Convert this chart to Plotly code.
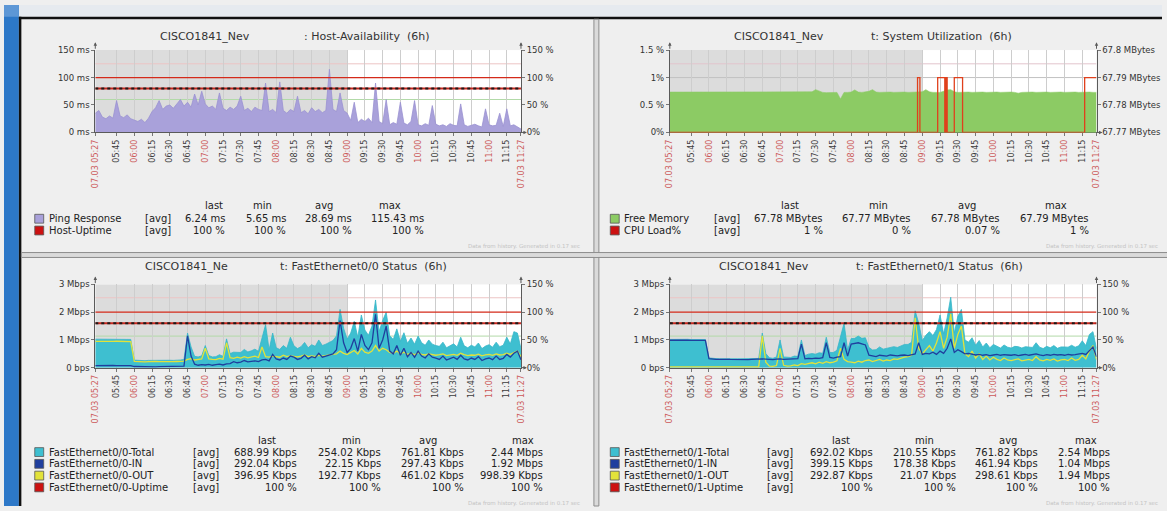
import plotly.graph_objects as go

W, H = 1167, 511
FONT = "DejaVu Sans"

# ---------------- data ----------------
START_TIME = "05:27"
SAMPLE_STEP_MIN = 3
WORK_START = "09:00"
X_TICK_LABELS = ["07.03 05:27", "05:45", "06:00", "06:15", "06:30", "06:45", "07:00",
                 "07:15", "07:30", "07:45", "08:00", "08:15", "08:30", "08:45", "09:00",
                 "09:15", "09:30", "09:45", "10:00", "10:15", "10:30", "10:45", "11:00",
                 "11:15", "07.03 11:27"]

PING_MS = [35, 40, 28, 25, 30, 26, 58, 30, 27, 32, 25, 22,
           20, 24, 18, 26, 38, 45, 58, 42, 48, 50, 44, 52, 60,
           48, 55, 46, 70, 50, 75, 52,
           45, 48, 42, 72, 44, 40, 46, 42, 48, 66, 40, 44, 38, 46, 42, 40, 90,
           38, 42, 36, 92, 40, 35, 42, 38, 66, 36, 40, 34, 45, 38, 42, 36, 40, 115,
           42, 38, 72, 40, 35,
           22, 55, 18, 24, 20, 26, 18, 90, 20,
           16, 60, 14, 18, 15, 55, 17, 14, 20, 58,
           14, 12, 16, 13, 49, 15, 12, 14, 11, 16, 13, 12, 52, 14, 11, 13, 15, 12, 10, 43,
           14, 12, 13, 35, 11, 43, 12, 14, 10, 6.24]
UPTIME_TIMES = ["05:27", "11:27"]
HOST_UPTIME_PCT = [100, 100]

FREE_MEM_MB = [67.7847, 67.7847, 67.7846, 67.7847, 67.7847, 67.7846, 67.7847, 67.7847, 67.7846, 67.7847,
               67.7847, 67.7846, 67.7847, 67.7847, 67.7847, 67.7846, 67.7847, 67.7847, 67.7846, 67.7847,
               67.7847, 67.7847, 67.7846, 67.7847, 67.7847, 67.7847, 67.7846, 67.7847, 67.7847, 67.7847,
               67.7846, 67.7847, 67.7847, 67.7846, 67.7847, 67.7847, 67.7846, 67.7847, 67.7847, 67.7846,
               67.7848, 67.7856, 67.7850, 67.7846, 67.7845, 67.7846, 67.7845, 67.7846, 67.7822, 67.7846,
               67.7846, 67.7847, 67.7855, 67.7847, 67.7846, 67.7847, 67.7850, 67.7856, 67.7847, 67.7846,
               67.7847, 67.7846, 67.7847, 67.7846, 67.7847, 67.7846, 67.7847, 67.7846, 67.7847, 67.7846,
               67.7847, 67.7848, 67.7856, 67.7848, 67.7846, 67.7847, 67.7846, 67.7850, 67.7855, 67.7856,
               67.7848, 67.7846, 67.7847, 67.7846, 67.7847, 67.7846, 67.7847, 67.7846, 67.7847, 67.7846,
               67.7847, 67.7846, 67.7847, 67.7846, 67.7847, 67.7846, 67.7847, 67.7846, 67.7843, 67.7846,
               67.7847, 67.7846, 67.7847, 67.7846, 67.7847, 67.7846, 67.7847, 67.7846, 67.7847, 67.7846,
               67.7847, 67.7846, 67.7847, 67.7846, 67.7847, 67.7846, 67.7847, 67.7846, 67.7847, 67.7846, 67.7846]
CPU_TIMES = ["05:27", "08:56", "08:58", "09:13", "09:19", "09:20", "09:21", "09:27", "09:34", "11:17", "11:27"]
CPU_LOAD_PCT = [0, 1, 0, 1, 0, 1, 0, 1, 0, 1, 1]

FE00_TOTAL_KBPS = [1030, 1030, 1030, 1030, 1030, 1035, 1035, 1020, 1035, 1030, 1020,
                   275, 260, 260, 255, 265, 270, 260, 260, 260, 275, 270, 265, 265, 280, 300,
                   1250,
                   750, 410, 390, 430, 800, 440, 390, 400, 470, 410, 1040,
                   510, 560, 560, 550, 660, 570, 610, 670, 590, 1030, 1550,
                   650, 1250, 720, 660, 800, 700, 1100, 790, 690, 760, 910, 720, 830, 770, 1000, 800,
                   850, 920, 980, 1150, 2100, 1420,
                   1030, 1250, 1670, 1100, 1900, 1360, 1170, 1500, 2440,
                   1300, 1700, 2000, 1150, 1020, 1400,
                   950, 1260, 880, 1070, 850, 1140, 900, 810, 1000, 850,
                   800, 770, 920, 720, 790, 860, 750, 1100, 790, 720, 810, 750, 890, 690, 780, 830,
                   740, 920, 760, 810, 1100, 860, 1300, 1250, 689]
FE00_IN_KBPS = [80, 85, 75, 80, 90, 85, 80, 75, 85, 80, 80,
                45, 40, 35, 40, 45, 40, 35, 40, 45, 50, 40, 45, 40, 50, 60,
                1150,
                420, 130, 90, 110, 100, 120, 90, 110, 130, 100, 140,
                150, 220, 180, 200, 260, 210, 230, 250, 220, 280, 300,
                250, 480, 320, 280, 350, 300, 420, 380, 300, 340, 450, 320, 400, 360, 520, 380,
                420, 460, 500, 650, 1700, 900,
                550, 700, 1050, 600, 1200, 800, 650, 900, 1920,
                700, 1000, 1500, 600, 500, 800,
                450, 700, 400, 550, 380, 600, 420, 350, 500, 380,
                350, 300, 420, 280, 330, 380, 300, 450, 320, 280, 350, 300, 400, 260, 320, 350,
                290, 420, 300, 340, 480, 380, 520, 600, 292]
FE00_OUT_KBPS = [950, 945, 955, 950, 940, 950, 955, 945, 950, 950, 940,
                 230, 220, 225, 215, 220, 230, 225, 220, 215, 225, 230, 220, 225, 230, 240,
                 300,
                 330, 280, 300, 320, 700, 320, 300, 290, 340, 310, 900,
                 360, 340, 380, 350, 400, 360, 380, 420, 370, 750, 400,
                 380, 420, 400, 380, 450, 400, 430, 410, 390, 420, 460, 400, 430, 410, 450, 420,
                 430, 460, 480, 500, 600, 520,
                 480, 550, 620, 500, 700, 560, 520, 600, 800,
                 600, 700, 650, 550, 520, 600,
                 500, 560, 480, 520, 470, 540, 480, 460, 500, 470,
                 450, 470, 500, 440, 460, 480, 450, 520, 470, 440, 460, 450, 490, 430, 460, 480,
                 450, 500, 460, 470, 520, 480, 550, 600, 397]
FE00_UPTIME_PCT = [100, 100]

FE01_TOTAL_KBPS = [1020, 1025, 1020, 1020, 1030, 1025, 1015, 1020, 1030, 1020, 1015,
                   355, 330, 330, 320, 335, 325, 325, 315, 325, 325, 325, 320, 320, 335, 335,
                   1250,
                   510, 360, 340, 390, 1000, 390, 370, 370, 420, 410, 1000,
                   440, 490, 510, 490, 540, 520, 1100, 550, 550, 630, 1100,
                   1600, 640, 1050, 1060, 1140, 1060, 1080, 730, 640, 650, 750, 670, 700, 720, 760, 730,
                   800, 840, 840, 920, 2050, 1600,
                   980, 1170, 1300, 1160, 1380, 1900, 1220, 1800, 2540,
                   1250, 1850, 2100, 1000, 920, 1080,
                   810, 980, 750, 890, 720, 840, 780, 710, 820, 740,
                   710, 770, 760, 710, 760, 750, 730, 900, 740, 690, 770, 720, 800, 700, 750, 750,
                   740, 810, 740, 790, 970, 800, 1200, 1300, 692]
FE01_IN_KBPS = [990, 995, 985, 990, 1000, 990, 985, 990, 995, 990, 985,
                330, 310, 305, 300, 310, 305, 300, 295, 300, 305, 300, 295, 300, 310, 305,
                320,
                310, 300, 290, 310, 320, 300, 310, 300, 320, 330, 850,
                320, 340, 330, 350, 340, 360, 900, 370, 350, 380, 400,
                900, 420, 850, 880, 900, 860, 820, 450, 420, 400, 450, 430, 420, 460, 440, 430,
                450, 460, 440, 470, 500, 900,
                480, 520, 500, 560, 480, 600, 520, 700, 1040,
                550, 650, 580, 500, 520, 480,
                460, 480, 450, 470, 440, 460, 480, 450, 470, 460,
                450, 470, 440, 460, 480, 450, 470, 500, 460, 440, 470, 450, 480, 460, 470, 450,
                480, 460, 470, 490, 520, 480, 600, 750, 399]
FE01_OUT_KBPS = [30, 30, 35, 30, 30, 35, 30, 30, 35, 30, 30,
                 25, 20, 25, 20, 25, 20, 25, 20, 25, 20, 25, 25, 20, 25, 30,
                 1150,
                 200, 60, 50, 80, 700, 90, 60, 70, 100, 80, 150,
                 120, 150, 180, 140, 200, 160, 220, 180, 200, 250, 700,
                 300, 220, 200, 180, 240, 200, 260, 280, 220, 250, 300, 240, 280, 260, 320, 300,
                 350, 380, 400, 450, 1800, 700,
                 500, 650, 800, 600, 900, 1300, 700, 1100, 1940,
                 700, 1200, 1500, 500, 400, 600,
                 350, 500, 300, 420, 280, 380, 300, 260, 350, 280,
                 260, 300, 320, 250, 280, 300, 260, 400, 280, 250, 300, 270, 320, 240, 280, 300,
                 260, 350, 270, 300, 450, 320, 600, 800, 293]
FE01_UPTIME_PCT = [100, 100]

# guide lines (in % of the right-hand axis) and trigger level
PCT_AXIS_MAX = 150
CPU_AXIS_MAX = 1.5
TRIGGER_PCT = 80
GUIDE_PCT_TOP = [125, 60]
GUIDE_PCT_BOTTOM = [126, 57]
GUIDE_CPU_PCT = [1.25, 1.0]

# legend tables
TL_NAMES = ["Ping Response", "Host-Uptime"]
TL_LAST = ["6.24 ms", "100 %"]
TL_MIN = ["5.65 ms", "100 %"]
TL_AVG = ["28.69 ms", "100 %"]
TL_MAX = ["115.43 ms", "100 %"]

TR_NAMES = ["Free Memory", "CPU Load%"]
TR_LAST = ["67.78 MBytes", "1 %"]
TR_MIN = ["67.77 MBytes", "0 %"]
TR_AVG = ["67.78 MBytes", "0.07 %"]
TR_MAX = ["67.79 MBytes", "1 %"]

BL_NAMES = ["FastEthernet0/0-Total", "FastEthernet0/0-IN", "FastEthernet0/0-OUT", "FastEthernet0/0-Uptime"]
BL_LAST = ["688.99 Kbps", "292.04 Kbps", "396.95 Kbps", "100 %"]
BL_MIN = ["254.02 Kbps", "22.15 Kbps", "192.77 Kbps", "100 %"]
BL_AVG = ["761.81 Kbps", "297.43 Kbps", "461.02 Kbps", "100 %"]
BL_MAX = ["2.44 Mbps", "1.92 Mbps", "998.39 Kbps", "100 %"]

BR_NAMES = ["FastEthernet0/1-Total", "FastEthernet0/1-IN", "FastEthernet0/1-OUT", "FastEthernet0/1-Uptime"]
BR_LAST = ["692.02 Kbps", "399.15 Kbps", "292.87 Kbps", "100 %"]
BR_MIN = ["210.55 Kbps", "178.38 Kbps", "21.07 Kbps", "100 %"]
BR_AVG = ["761.82 Kbps", "461.94 Kbps", "298.61 Kbps", "100 %"]
BR_MAX = ["2.54 Mbps", "1.04 Mbps", "1.94 Mbps", "100 %"]

# ---------------- styles ----------------
C_PING = "#a9a1da"
C_RED = "#d42a1a"
C_MEM = "#8ccb64"
C_CPU = "#e0401c"
C_TOTAL = "#3ebfd0"
C_IN = "#1f3f9e"
C_OUT = "#e2e23a"


def hm(s):
    hh, mm = s[-5:].split(":")
    return int(hh) * 60 + int(mm)


def sample_x(vals):
    t0 = hm(START_TIME)
    return [t0 + SAMPLE_STEP_MIN * k for k in range(len(vals))]


def px(x):
    return x / W


def py(y):
    return 1 - y / H


T0, T1 = hm(X_TICK_LABELS[0]), hm(X_TICK_LABELS[-1])
TICKVALS = [hm(s) for s in X_TICK_LABELS]
TICKTEXT = []
for s in X_TICK_LABELS:
    red = s.startswith("07.03") or s.endswith(":00")
    TICKTEXT.append("<span style='color:#cc5a5a'>%s</span>" % s if red else s)

# panel plot areas in pixels
GEOM = {
    1: dict(x0=92, x1=521, top=46, bot=130),
    2: dict(x0=671, x1=1101, top=46, bot=130),
    3: dict(x0=92, x1=521, top=285, bot=370),
    4: dict(x0=671, x1=1101, top=285, bot=370),
}

fig = go.Figure()


def ax(n):
    return "" if n == 1 else str(n)


# --- panel 1: host availability
fig.add_trace(go.Scatter(x=sample_x(PING_MS), y=PING_MS, mode="lines", fill="tozeroy",
                         fillcolor=C_PING, line=dict(color="#9a92d2", width=0.8),
                         xaxis="x", yaxis="y", hoverinfo="skip"))
fig.add_trace(go.Scatter(x=[hm(t) for t in UPTIME_TIMES], y=HOST_UPTIME_PCT, mode="lines",
                         line=dict(color=C_RED, width=1.2), xaxis="x", yaxis="y2", hoverinfo="skip"))

# --- panel 2: system utilisation (memory on base axis y3 = right side, cpu on y4 = left side)
fig.add_trace(go.Scatter(x=sample_x(FREE_MEM_MB), y=FREE_MEM_MB, mode="lines", fill="tozeroy",
                         fillcolor=C_MEM, line=dict(color=C_MEM, width=0.6),
                         xaxis="x2", yaxis="y3", hoverinfo="skip"))
fig.add_trace(go.Scatter(x=[hm(t) for t in CPU_TIMES], y=CPU_LOAD_PCT, mode="lines",
                         line=dict(color=C_CPU, width=1.3, shape="hv"),
                         xaxis="x2", yaxis="y4", hoverinfo="skip", cliponaxis=False))

# --- panels 3/4: interfaces
for k, (tot, inn, out, up) in ((3, (FE00_TOTAL_KBPS, FE00_IN_KBPS, FE00_OUT_KBPS, FE00_UPTIME_PCT)),
                               (4, (FE01_TOTAL_KBPS, FE01_IN_KBPS, FE01_OUT_KBPS, FE01_UPTIME_PCT))):
    xa, yl, yr = "x%d" % k, "y%d" % (2 * k - 1), "y%d" % (2 * k)
    fig.add_trace(go.Scatter(x=sample_x(tot), y=tot, mode="lines", fill="tozeroy",
                             fillcolor=C_TOTAL, line=dict(color="#38b6c8", width=0.8),
                             xaxis=xa, yaxis=yl, hoverinfo="skip"))
    fig.add_trace(go.Scatter(x=sample_x(out), y=out, mode="lines",
                             line=dict(color=C_OUT, width=1.3), xaxis=xa, yaxis=yl, hoverinfo="skip"))
    fig.add_trace(go.Scatter(x=sample_x(inn), y=inn, mode="lines",
                             line=dict(color=C_IN, width=1.3), xaxis=xa, yaxis=yl, hoverinfo="skip"))
    fig.add_trace(go.Scatter(x=[hm(t) for t in UPTIME_TIMES], y=up, mode="lines",
                             line=dict(color=C_RED, width=1.2), xaxis=xa, yaxis=yr, hoverinfo="skip"))

# ---------------- axes ----------------
layout = dict(width=W, height=H, autosize=False, margin=dict(l=0, r=0, t=0, b=0),
              paper_bgcolor="#efefef", plot_bgcolor="#ffffff", showlegend=False,
              font=dict(family=FONT, color="#333333", size=9))
AXLINE = "#5a5a5a"
YFONT = dict(family=FONT, size=8.5, color="#333333")

for k, g in GEOM.items():
    xd = [px(g["x0"]), px(g["x1"])]
    layout["xaxis" + ax(k)] = dict(
        domain=xd, anchor="y" + ax(2 * k - 1), range=[T0, T1], tickvals=TICKVALS, ticktext=TICKTEXT,
        tickangle=-90, tickfont=dict(family=FONT, size=8, color="#3c3c3c"), showgrid=True,
        gridcolor="#cdcdcd", gridwidth=1, showline=True, linecolor=AXLINE, ticks="outside",
        ticklen=3, tickcolor="#777777", zeroline=False, fixedrange=True,
        layer="below traces" if k == 2 else "above traces")

y_specs = {
    1: dict(range=[0, 150], tickvals=[0, 50, 100, 150], ticktext=["0 ms", "50 ms", "100 ms", "150 ms"], side="left"),
    2: dict(range=[0, PCT_AXIS_MAX], tickvals=[0, 50, 100, 150], ticktext=["0%", "50 %", "100 %", "150 %"], side="right"),
    3: dict(range=[67.77, 67.80], tickvals=[67.77, 67.78, 67.79, 67.80],
            ticktext=["67.77 MBytes", "67.78 MBytes", "67.79 MBytes", "67.8 MBytes"], side="right"),
    4: dict(range=[0, CPU_AXIS_MAX], tickvals=[0, 0.5, 1, 1.5], ticktext=["0%", "0.5 %", "1%", "1.5 %"], side="left"),
    5: dict(range=[0, 3000], tickvals=[0, 1000, 2000, 3000], ticktext=["0 bps", "1 Mbps", "2 Mbps", "3 Mbps"], side="left"),
    6: dict(range=[0, PCT_AXIS_MAX], tickvals=[0, 50, 100, 150], ticktext=["0%", "50 %", "100 %", "150 %"], side="right"),
    7: dict(range=[0, 3000], tickvals=[0, 1000, 2000, 3000], ticktext=["0 bps", "1 Mbps", "2 Mbps", "3 Mbps"], side="left"),
    8: dict(range=[0, PCT_AXIS_MAX], tickvals=[0, 50, 100, 150], ticktext=["0%", "50 %", "100 %", "150 %"], side="right"),
}
for n, spec in y_specs.items():
    k = (n + 1) // 2
    g = GEOM[k]
    d = dict(spec, anchor="x" + ax(k), tickfont=YFONT, showgrid=False, showline=True, linecolor=AXLINE,
             ticks="outside", ticklen=3, tickcolor="#777777", zeroline=False, fixedrange=True)
    if n % 2 == 1:
        d["domain"] = [py(g["bot"]), py(g["top"])]
    else:
        d["overlaying"] = "y" + ax(n - 1)
    layout["yaxis" + ax(n)] = d

# ---------------- shapes ----------------
shapes = []


def prect(x0, x1, y0, y1, color, line=None):
    shapes.append(dict(type="rect", xref="paper", yref="paper", x0=px(x0), x1=px(x1), y0=py(y1), y1=py(y0),
                       fillcolor=color, line=line or dict(width=0), layer="below"))


# outer frame
prect(0, W, 0, 12, "#e6eaef")
prect(0, 15, 0, H, "#2d78c8")
prect(0, 15, 0, 12, "#5d97d6")
prect(15, W, 12, 14.5, "#111111")
prect(15, 17.5, 12, H, "#111111")
# panel dividers (double grey lines)
prect(594.5, 599.5, 14.5, H, "#dadada", dict(color="#8c8c8c", width=1))
prect(17.5, W + 10, 252.5, 257.5, "#dadada", dict(color="#8c8c8c", width=1))
prect(595, 599, 253, 257, "#dadada")

work_x = hm(WORK_START)
for k in GEOM:
    xr = "x" + ax(k)
    ydom = "y" + ax(2 * k - 1) + " domain"
    shapes.append(dict(type="rect", xref=xr, yref=ydom, x0=T0, x1=work_x, y0=0, y1=1,
                       fillcolor="#dcdcdc", line_width=0, layer="below"))
    if k == 2:
        for i, lv in enumerate(GUIDE_CPU_PCT):
            f = lv / CPU_AXIS_MAX
            shapes.append(dict(type="line", xref=xr, yref=ydom, x0=T0, x1=T1, y0=f, y1=f,
                               line=dict(color="#e2c4cc" if i == 0 else "#c2c2c2", width=1), layer="below"))
        continue
    guides = GUIDE_PCT_TOP if k == 1 else GUIDE_PCT_BOTTOM
    for lv, col in zip(guides, ("#ecc4c4", "#b2daa8")):
        f = lv / PCT_AXIS_MAX
        shapes.append(dict(type="line", xref=xr, yref=ydom, x0=T0, x1=T1, y0=f, y1=f,
                           line=dict(color=col, width=1), layer="below"))
    f = TRIGGER_PCT / PCT_AXIS_MAX
    shapes.append(dict(type="line", xref=xr, yref=ydom, x0=T0, x1=T1, y0=f, y1=f,
                       line=dict(color="#c8281e", width=2), layer="above"))
    shapes.append(dict(type="line", xref=xr, yref=ydom, x0=T0, x1=T1, y0=f, y1=f,
                       line=dict(color="#1a1a1a", width=2, dash="3px,3px"), layer="above"))

# ---------------- annotations ----------------
ann = []


def text(x, y, s, size=10, anchor="left", color="#222222"):
    ann.append(dict(xref="paper", yref="paper", x=px(x), y=py(y), text=s, showarrow=False,
                    xanchor=anchor, yanchor="middle", font=dict(family=FONT, size=size, color=color)))


# axis arrows
for k, g in GEOM.items():
    for xa in (g["x0"], g["x1"]):
        ann.append(dict(xref="paper", yref="paper", x=px(xa), y=py(g["top"] - 8), ax=0, ay=8, text="",
                        showarrow=True, arrowhead=2, arrowsize=0.7, arrowwidth=1, arrowcolor=AXLINE))
    ann.append(dict(xref="paper", yref="paper", x=px(g["x1"] + 6), y=py(g["bot"]), ax=-6, ay=0, text="",
                    showarrow=True, arrowhead=2, arrowsize=0.7, arrowwidth=1, arrowcolor=AXLINE))

# titles
TITLES = [
    (155, 300, 32, "CISCO1841_Nev", ": Host-Availability  (6h)"),
    (734, 872, 32, "CISCO1841_Nev", "t: System Utilization  (6h)"),
    (140, 276, 267, "CISCO1841_Ne", "t: FastEthernet0/0 Status  (6h)"),
    (719, 857, 267, "CISCO1841_Nev", "t: FastEthernet0/1 Status  (6h)"),
]
for xa, xb, y, a, b in TITLES:
    text(xa, y, a, size=11, color="#333333")
    text(xb, y, b.replace(" ", "\u00a0"), size=11, color="#333333")

# legends
LEGENDS = [
    dict(names=TL_NAMES, cols=[TL_LAST, TL_MIN, TL_AVG, TL_MAX], colors=[C_PING, "#cc1111"],
         sq=31, name=43, avg=140, vr=[225, 286, 353, 425], hc=[212, 261, 322, 389], hy=205, ry=[218, 230]),
    dict(names=TR_NAMES, cols=[TR_LAST, TR_MIN, TR_AVG, TR_MAX], colors=[C_MEM, "#cc1111"],
         sq=611, name=623, avg=713, vr=[827, 916, 1006, 1095], hc=[792, 881, 970, 1060], hy=205, ry=[218, 230]),
    dict(names=BL_NAMES, cols=[BL_LAST, BL_MIN, BL_AVG, BL_MAX], colors=[C_TOTAL, C_IN, C_OUT, "#cc1111"],
         sq=31, name=43, avg=188, vr=[297, 382, 466, 545], hc=[265, 350, 427, 523], hy=444, ry=[456, 468, 480, 492]),
    dict(names=BR_NAMES, cols=[BR_LAST, BR_MIN, BR_AVG, BR_MAX], colors=[C_TOTAL, C_IN, C_OUT, "#cc1111"],
         sq=611, name=623, avg=767, vr=[878, 961, 1044, 1117], hc=[844, 928, 1012, 1090], hy=444, ry=[456, 468, 480, 492]),
]
HEADERS = ["last", "min", "avg", "max"]
for L in LEGENDS:
    for h, xc in zip(HEADERS, L["hc"]):
        text(xc, L["hy"], h, anchor="center")
    for r, nm in enumerate(L["names"]):
        y = L["ry"][r]
        shapes.append(dict(type="rect", xref="paper", yref="paper", x0=px(L["sq"]), x1=px(L["sq"] + 9),
                           y0=py(y + 4.5), y1=py(y - 4.5), fillcolor=L["colors"][r],
                           line=dict(color="#555555", width=0.8), layer="above"))
        text(L["name"], y, nm)
        text(L["avg"], y, "[avg]")
        for c, xr in enumerate(L["vr"]):
            text(xr, y, L["cols"][c][r], anchor="right")

FOOTER = "Data from history. Generated in 0.17 sec"
for x, y in ((582, 246), (1165, 246), (582, 508), (1165, 508)):
    text(x, y, FOOTER, size=5.5, anchor="right", color="#c4c4c4")

layout["shapes"] = shapes
layout["annotations"] = ann
fig.update_layout(**layout)
fig.write_html("out.html", config={"displayModeBar": False, "staticPlot": True},
               post_script="document.body.style.margin='0px';document.body.style.overflow='hidden';")
